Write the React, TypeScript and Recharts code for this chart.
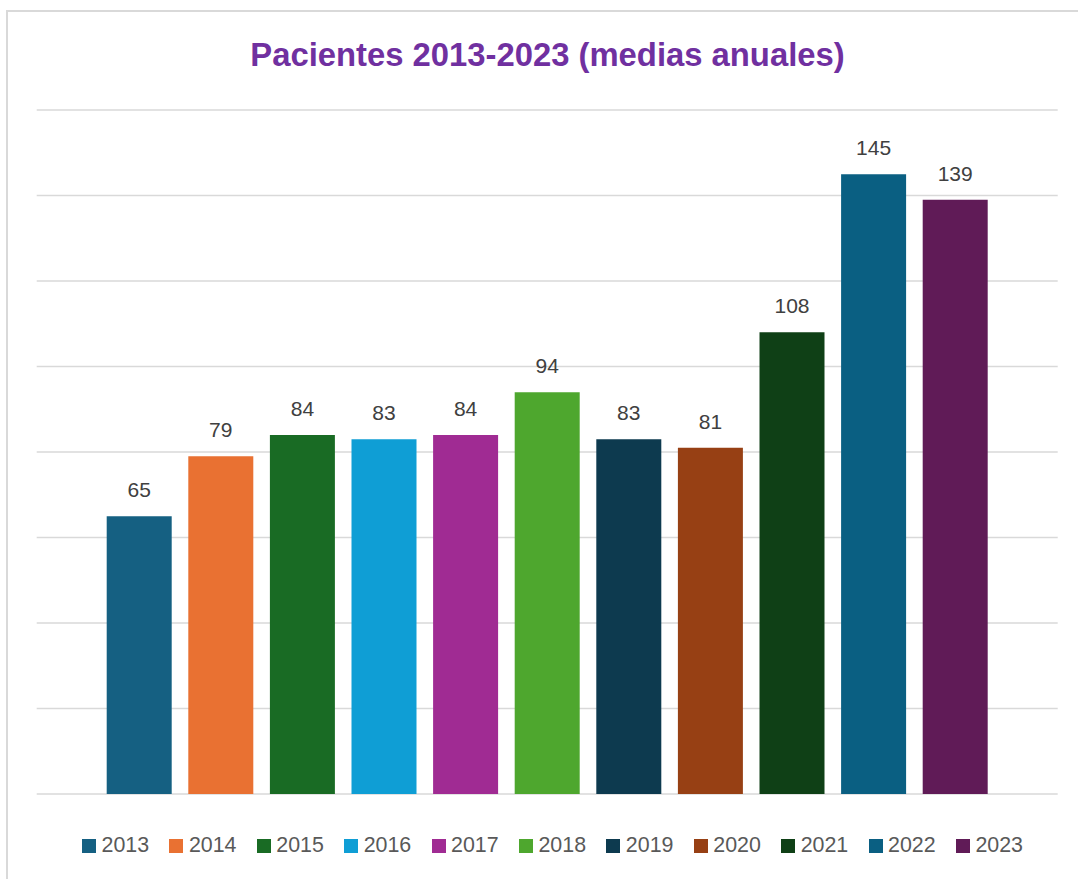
import React from 'react';
import { BarChart, Bar, XAxis, YAxis, CartesianGrid, LabelList, Legend } from 'recharts';

const years: string[] = ['2013', '2014', '2015', '2016', '2017', '2018', '2019', '2020', '2021', '2022', '2023'];
const values: number[] = [65, 79, 84, 83, 84, 94, 83, 81, 108, 145, 139];
const colors: string[] = ['#156082', '#E97132', '#196B24', '#0F9ED5', '#A02B93', '#4EA72E', '#0D3A4F', '#974014', '#0F4016', '#0A5F82', '#601B57'];
const yTicks: number[] = [0, 20, 40, 60, 80, 100, 120, 140, 160];
const title = 'Pacientes 2013-2023 (medias anuales)';

const row: Record<string, any> = { name: 'Pacientes' };
years.forEach((y, i) => {
  row['y' + y] = values[i];
});
const data = [row];

const FONT = '"Liberation Sans", Arial, sans-serif';

const renderLegend = (props: any) => {
  const payload = props.payload || [];
  return (
    <div style={{ display: 'flex', flexDirection: 'row', alignItems: 'center', fontFamily: FONT }}>
      {payload.map((p: any, i: number) => (
        <div key={i} style={{ display: 'flex', alignItems: 'center', marginRight: i < payload.length - 1 ? 20.3 : 0 }}>
          <div style={{ width: 14, height: 14, background: p.color, marginRight: 5.5 }} />
          <span style={{ fontSize: 21.4, lineHeight: '21px', color: '#595959' }}>{p.value}</span>
        </div>
      ))}
    </div>
  );
};

export default function App() {
  return (
    <div style={{ position: 'absolute', left: 0, top: 0, width: 1078, height: 879, overflow: 'hidden', background: '#fff' }}>
      <div
        style={{
          position: 'absolute',
          left: 6,
          top: 10,
          width: 1090,
          height: 890,
          border: '2px solid #D9D9D9',
          boxSizing: 'border-box',
        }}
      />
      <svg style={{ position: 'absolute', left: 0, top: 0 }} width={1078} height={100}>
        <text x={547.5} y={66} textAnchor="middle" fill="#7030A0" fontFamily={FONT} fontWeight="bold" fontSize={32.8}>
          {title}
        </text>
      </svg>
      <div style={{ position: 'absolute', left: 0, top: 0 }}>
        <BarChart
          width={1078}
          height={879}
          data={data}
          margin={{ top: 110, right: 20.3, left: 36.7, bottom: 85 }}
          barGap={16.6}
        >
          <CartesianGrid vertical={false} stroke="#D9D9D9" strokeWidth={1.6} />
          <XAxis dataKey="name" hide />
          <YAxis hide domain={[0, 160]} ticks={yTicks} />
          <Legend
            layout="horizontal"
            verticalAlign="middle"
            align="center"
            content={renderLegend}
            wrapperStyle={{ position: 'absolute', left: 82, top: 835, width: 990 }}
          />
          {years.map((y, i) => (
            <Bar key={y} dataKey={'y' + y} name={y} fill={colors[i]} barSize={65} isAnimationActive={false}>
              <LabelList
                dataKey={'y' + y}
                position="top"
                offset={19}
                fill="#404040"
                fontSize={21}
                fontFamily={FONT}
              />
            </Bar>
          ))}
        </BarChart>
      </div>
    </div>
  );
}
